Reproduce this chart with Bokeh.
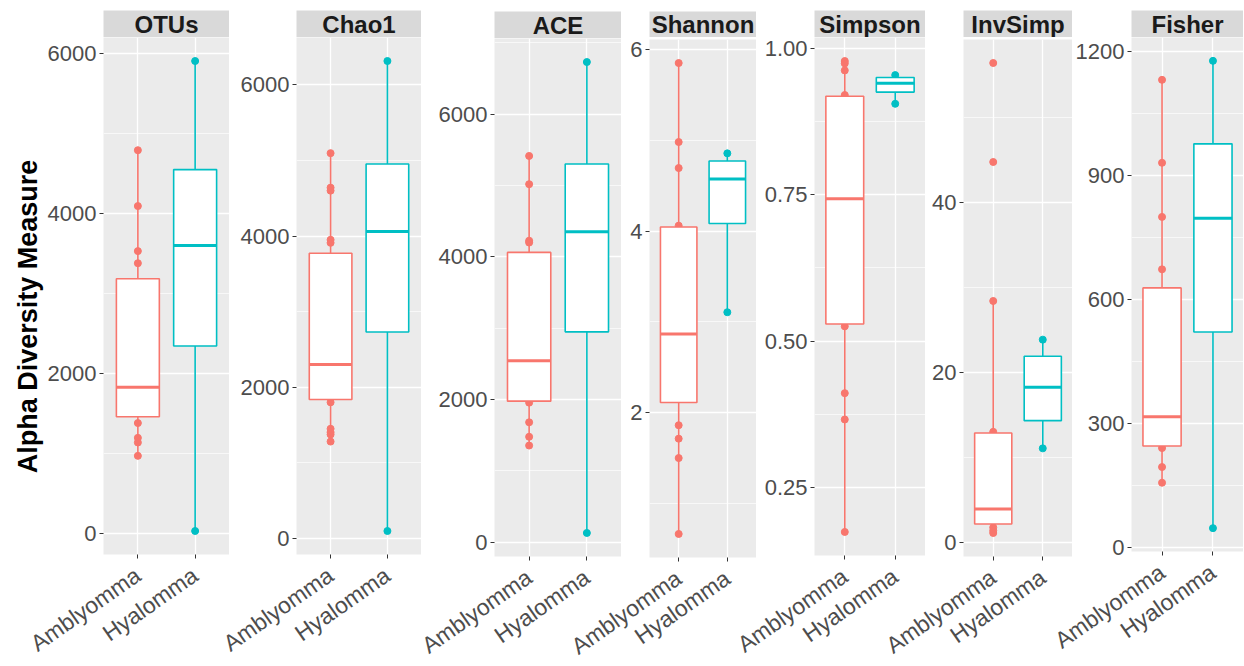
import math
from bokeh.plotting import figure
from bokeh.models import Range1d, FixedTicker, GlobalInlineStyleSheet
from bokeh.layouts import row, column
from bokeh.embed import file_html
from bokeh.resources import INLINE
from bokeh.core.properties import value

metrics = ["OTUs", "Chao1", "ACE", "Shannon", "Simpson", "InvSimp", "Fisher"]
groups = ["Amblyomma", "Hyalomma"]
group_colors = ["#F8766D", "#00BFC4"]

# box stats: [lower whisker, Q1, median, Q3, upper whisker]; points = samples visible outside the boxes
otus_amblyomma_box = [973, 1461, 1830, 3186, 4793]
otus_amblyomma_points = [4793, 4095, 3532, 3381, 1383, 1198, 1140, 973]
otus_hyalomma_box = [34, 2347, 3603, 4551, 5908]
otus_hyalomma_points = [5908, 34]

chao1_amblyomma_box = [1281, 1838, 2299, 3771, 5096]
chao1_amblyomma_points = [5096, 4640, 4600, 3950, 3910, 1800, 1450, 1405, 1375, 1281]
chao1_hyalomma_box = [98, 2731, 4060, 4953, 6315]
chao1_hyalomma_points = [6315, 98]

ace_amblyomma_box = [1353, 1976, 2542, 4062, 5415]
ace_amblyomma_points = [5415, 5019, 4226, 4200, 1955, 1679, 1476, 1353]
ace_hyalomma_box = [127, 2948, 4350, 5302, 6732]
ace_hyalomma_points = [6732, 127]

shannon_amblyomma_box = [0.66, 2.11, 2.866, 4.045, 5.853]
shannon_amblyomma_points = [5.853, 4.982, 4.695, 4.06, 1.859, 1.711, 1.497, 0.66]
shannon_hyalomma_box = [3.105, 4.083, 4.573, 4.772, 4.857]
shannon_hyalomma_points = [4.857, 3.105]

simpson_amblyomma_box = [0.174, 0.529, 0.743, 0.918, 0.978]
simpson_amblyomma_points = [0.978, 0.974, 0.962, 0.920, 0.525, 0.411, 0.366, 0.174]
simpson_hyalomma_box = [0.905, 0.925, 0.940, 0.950, 0.954]
simpson_hyalomma_points = [0.954, 0.905]

invsimp_amblyomma_box = [1.1, 2.16, 3.93, 12.87, 28.4]
invsimp_amblyomma_points = [56.4, 44.75, 28.4, 13.0, 1.76, 1.38, 1.1]
invsimp_hyalomma_box = [11.06, 14.32, 18.24, 21.9, 23.85]
invsimp_hyalomma_points = [23.85, 11.06]

fisher_amblyomma_box = [156, 245, 316, 628, 1132]
fisher_amblyomma_points = [1132, 931, 800, 673, 240, 194, 156]
fisher_hyalomma_box = [46, 521, 797, 977, 1178]
fisher_hyalomma_points = [1178, 46]

otus_ticks = [0, 2000, 4000, 6000]
chao1_ticks = [0, 2000, 4000, 6000]
ace_ticks = [0, 2000, 4000, 6000]
shannon_ticks = [2, 4, 6]
simpson_ticks = [0.25, 0.50, 0.75, 1.00]
invsimp_ticks = [0, 20, 40]
fisher_ticks = [0, 300, 600, 900, 1200]

otus_tick_labels = ["0", "2000", "4000", "6000"]
chao1_tick_labels = ["0", "2000", "4000", "6000"]
ace_tick_labels = ["0", "2000", "4000", "6000"]
shannon_tick_labels = ["2", "4", "6"]
simpson_tick_labels = ["0.25", "0.50", "0.75", "1.00"]
invsimp_tick_labels = ["0", "20", "40"]
fisher_tick_labels = ["0", "300", "600", "900", "1200"]

y_title = "Alpha Diversity Measure"

panels = [
    (otus_amblyomma_box, otus_amblyomma_points, otus_hyalomma_box, otus_hyalomma_points, otus_ticks, otus_tick_labels),
    (chao1_amblyomma_box, chao1_amblyomma_points, chao1_hyalomma_box, chao1_hyalomma_points, chao1_ticks, chao1_tick_labels),
    (ace_amblyomma_box, ace_amblyomma_points, ace_hyalomma_box, ace_hyalomma_points, ace_ticks, ace_tick_labels),
    (shannon_amblyomma_box, shannon_amblyomma_points, shannon_hyalomma_box, shannon_hyalomma_points, shannon_ticks, shannon_tick_labels),
    (simpson_amblyomma_box, simpson_amblyomma_points, simpson_hyalomma_box, simpson_hyalomma_points, simpson_ticks, simpson_tick_labels),
    (invsimp_amblyomma_box, invsimp_amblyomma_points, invsimp_hyalomma_box, invsimp_hyalomma_points, invsimp_ticks, invsimp_tick_labels),
    (fisher_amblyomma_box, fisher_amblyomma_points, fisher_hyalomma_box, fisher_hyalomma_points, fisher_ticks, fisher_tick_labels),
]

# ---- layout geometry (screen pixels of the picture) ----
PAGE = 0
frame_left = [103, 296, 494, 649, 814, 963, 1131]
frame_width_full = [126, 125, 127, 107, 111, 109, 112]
strip_top = [10, 10, 11, 11, 10, 10, 10]
strip_bottom = [37, 37, 38, 37, 37, 37, 37]
panel_top = [37, 37, 38, 39, 37, 39, 37]
panel_bottom = [554, 554, 556, 557, 555, 556, 551]
RIGHT_LIMIT = 1244
LB = 95
TITLE_W = 60
TOTAL_H = 640

FONT_NAME = "Liberation Sans"
FONT = value(FONT_NAME)

# title figure
tf = figure(frame_width=TITLE_W, frame_height=TOTAL_H, x_range=Range1d(0, TITLE_W), y_range=Range1d(0, TOTAL_H),
            toolbar_location=None, output_backend="svg", min_border=0,
            x_axis_location=None, y_axis_location=None)
tf.grid.visible = False
tf.outline_line_color = None
tf.background_fill_color = None
tf.border_fill_color = None
tf.text(x=[27 - PAGE], y=[TOTAL_H - (316 - PAGE)], text=[y_title], angle=math.pi / 2,
        text_align="center", text_baseline="middle", text_font=FONT,
        text_font_style="bold", text_font_size="27px", text_color="black")

children = [tf]
prev_right = PAGE + TITLE_W

for i, name in enumerate(metrics):
    amb_box, amb_pts, hya_box, hya_pts, ticks, tick_labels = panels[i]
    allv = amb_box + amb_pts + hya_box + hya_pts
    lo, hi = min(allv), max(allv)
    pad = 0.05 * (hi - lo)
    left = frame_left[i]
    wfull = frame_width_full[i]
    w = min(wfull, RIGHT_LIMIT - left)
    x_end = 0.4 + 2.2 * w / wfull

    strip = figure(frame_width=w, frame_height=strip_bottom[i] - strip_top[i],
                   min_border_left=LB, min_border_right=0, min_border_top=strip_top[i] - PAGE, min_border_bottom=0,
                   x_range=Range1d(0, 1), y_range=Range1d(0, 1), toolbar_location=None, output_backend="svg",
                   x_axis_location=None, y_axis_location=None)
    strip.grid.visible = False
    strip.outline_line_color = None
    strip.background_fill_color = "#D9D9D9"
    strip.border_fill_color = None
    strip.text(x=[0.5], y=[0.5], text=[name], text_align="center", text_baseline="middle",
               text_font=FONT, text_font_style="bold", text_font_size="24px", text_color="#1A1A1A")

    p = figure(frame_width=w, frame_height=panel_bottom[i] - panel_top[i],
               min_border_left=LB, min_border_right=0, min_border_top=panel_top[i] - strip_bottom[i],
               min_border_bottom=0,
               x_range=Range1d(0.4, x_end), y_range=Range1d(lo - pad, hi + pad),
               toolbar_location=None, output_backend="svg")
    p.background_fill_color = "#EBEBEB"
    p.border_fill_color = None
    p.outline_line_color = None

    step = ticks[1] - ticks[0]
    minors = [t - step / 2 for t in ticks] + [ticks[-1] + step / 2]
    p.yaxis.ticker = FixedTicker(ticks=ticks, minor_ticks=minors)
    p.yaxis.major_label_overrides = {t: l for t, l in zip(ticks, tick_labels)}
    p.xaxis.ticker = FixedTicker(ticks=[1, 2])
    p.xaxis.major_label_overrides = {1: groups[0], 2: groups[1]}

    p.ygrid.grid_line_color = "white"
    p.ygrid.grid_line_width = 1.3
    p.ygrid.minor_grid_line_color = "white"
    p.ygrid.minor_grid_line_width = 0.65
    p.xgrid.grid_line_color = "white"
    p.xgrid.grid_line_width = 1.3

    for ax in (p.xaxis[0], p.yaxis[0]):
        ax.axis_line_color = None
        ax.major_tick_out = 4
        ax.major_tick_in = 0
        ax.major_tick_line_color = "#333333"
        ax.minor_tick_line_color = None
        ax.major_label_text_font = FONT_NAME
        ax.major_label_text_color = "#4D4D4D"
    p.yaxis.major_label_standoff = 3
    p.xaxis.major_label_standoff = 14
    p.yaxis.major_label_text_font_size = "22px"
    p.xaxis.major_label_text_font_size = "23px"
    p.xaxis.major_label_orientation = math.radians(35)

    for gi, (box, pts) in enumerate([(amb_box, amb_pts), (hya_box, hya_pts)]):
        xpos = gi + 1
        c = group_colors[gi]
        p.scatter(x=[xpos] * len(pts), y=pts, size=7, color=c)
        p.segment(x0=[xpos, xpos], y0=[box[0], box[3]], x1=[xpos, xpos], y1=[box[1], box[4]],
                  line_color=c, line_width=1.6)
        p.vbar(x=[xpos], width=0.75, bottom=[box[1]], top=[box[3]], fill_color="white",
               line_color=c, line_width=1.6)
        p.segment(x0=[xpos - 0.375], x1=[xpos + 0.375], y0=[box[2]], y1=[box[2]],
                  line_color=c, line_width=3)

    fig_left = left - LB
    col = column(strip, p, spacing=0)
    col.margin = (0, 0, 0, fig_left - prev_right)
    prev_right = left + w
    children.append(col)

layout = row(children, spacing=0)
layout.stylesheets = [GlobalInlineStyleSheet(css="html, body { overflow: hidden; }")]
open("out.html", "w").write(file_html(layout, INLINE))
